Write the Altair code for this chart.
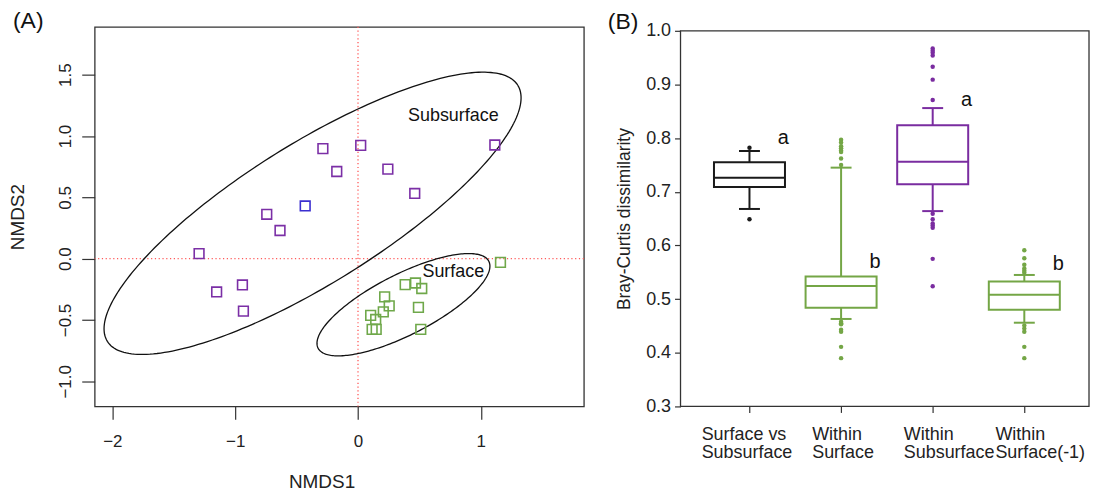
import numpy as np
import pandas as pd
import altair as alt

FONT = "Liberation Sans"

# ---------------- Panel A data (NMDS) ----------------
sub_x = [-0.286, 0.022, -0.173, 0.243, 0.462, 1.114, -0.743, -0.430, -0.635, -1.294, -1.151, -0.941, -0.933]
sub_y = [0.897, 0.924, 0.711, 0.730, 0.532, 0.927, 0.362, 0.430, 0.230, 0.041, -0.271, -0.214, -0.427]
sub_col = ["#7b2fa6"] * 7 + ["#3b2fd0"] + ["#7b2fa6"] * 5

surf_x = [1.160, 0.384, 0.468, 0.519, 0.217, 0.254, 0.492, 0.206, 0.103, 0.144, 0.115, 0.148, 0.511]
surf_y = [-0.030, -0.211, -0.198, -0.243, -0.311, -0.384, -0.397, -0.433, -0.462, -0.495, -0.576, -0.576, -0.576]
surf_col = "#6fa84a"

ell_names = ["Subsurface", "Surface"]
ell_cx = [-0.37, 0.37]
ell_cy = [0.37, -0.375]
ell_a = [1.97, 0.78]
ell_b = [0.57, 0.247]
ell_deg = [32, 27]

lab_text = ["Subsurface", "Surface"]
lab_x = [0.776, 0.776]
lab_y = [1.162, -0.108]

x_ticks_A = [-2, -1, 0, 1]
y_ticks_A = [-1.0, -0.5, 0.0, 0.5, 1.0, 1.5]

# ---------------- Panel B data (boxplots) ----------------
cats = ["Surface vs\nSubsurface", "Within\nSurface", "Within\nSubsurface", "Within\nSurface(-1)"]
box_colors = ["#1a1a1a", "#74a646", "#7a2ca0", "#74a646"]
q1 = [0.709, 0.484, 0.714, 0.480]
med = [0.726, 0.5245, 0.756, 0.508]
q3 = [0.755, 0.542, 0.824, 0.533]
wlo = [0.668, 0.463, 0.664, 0.456]
whi = [0.776, 0.745, 0.856, 0.545]
outliers = [
    [0.782, 0.649],
    [0.797, 0.792, 0.785, 0.781, 0.777, 0.774, 0.762, 0.750,
     0.458, 0.455, 0.453, 0.443, 0.439, 0.411, 0.390],
    [0.967, 0.963, 0.959, 0.954, 0.933, 0.909, 0.871,
     0.659, 0.649, 0.641, 0.637, 0.633, 0.575, 0.524],
    [0.591, 0.576, 0.564, 0.557, 0.553, 0.549,
     0.451, 0.445, 0.439, 0.411, 0.390],
]
letters = ["a", "b", "a", "b"]
letter_y = [0.800, 0.569, 0.871, 0.566]
y_ticks_B = [0.3, 0.4, 0.5, 0.6, 0.7, 0.8, 0.9, 1.0]

# ================= Panel A =================
pts = pd.DataFrame({
    "x": sub_x + surf_x,
    "y": sub_y + surf_y,
    "col": sub_col + [surf_col] * len(surf_x),
})

rows = []
for n, cx, cy, a, b, d in zip(ell_names, ell_cx, ell_cy, ell_a, ell_b, ell_deg):
    th = np.deg2rad(d)
    t = np.linspace(0, 2 * np.pi, 241)
    ex = cx + a * np.cos(t) * np.cos(th) - b * np.sin(t) * np.sin(th)
    ey = cy + a * np.cos(t) * np.sin(th) + b * np.sin(t) * np.cos(th)
    for i, (xx, yy) in enumerate(zip(ex, ey)):
        rows.append({"grp": n, "i": i, "x": xx, "y": yy})
ell = pd.DataFrame(rows)

x_A = alt.X("x:Q", scale=alt.Scale(domain=[-2.144, 1.839], nice=False, zero=False),
            axis=alt.Axis(values=x_ticks_A, format="d", title="NMDS1", tickSize=13,
                          labelFontSize=17, labelPadding=14, titleFontSize=19,
                          titleX=227.7, titleY=75, titleBaseline="middle"))
y_A = alt.Y("y:Q", scale=alt.Scale(domain=[-1.204, 1.890], nice=False, zero=False),
            axis=alt.Axis(values=y_ticks_A, format=".1f", title="NMDS2", tickSize=13,
                          labelFontSize=17, labelAngle=270, labelAlign="center",
                          labelBaseline="alphabetic", labelPadding=11,
                          titleFontSize=19, titleX=-77, titleY=190.5,
                          titleBaseline="middle", titleAngle=270))

vline = alt.Chart(pd.DataFrame({"x": [0]})).mark_rule(
    color="#ff5a5a", strokeDash=[1.2, 2.6], strokeWidth=1.3).encode(x=x_A)
hline = alt.Chart(pd.DataFrame({"y": [0]})).mark_rule(
    color="#ff5a5a", strokeDash=[1.2, 2.6], strokeWidth=1.3).encode(y=y_A)

ell_layer = alt.Chart(ell).mark_line(color="#111", strokeWidth=1.3).encode(
    x=x_A, y=y_A, detail="grp:N", order="i:Q")

pt_layer = alt.Chart(pts).mark_point(shape="square", filled=False, size=95, strokeWidth=1.6,
                                     opacity=1).encode(
    x=x_A, y=y_A, color=alt.Color("col:N", scale=None))

lab_layer = alt.Chart(pd.DataFrame({"x": lab_x, "y": lab_y, "t": lab_text})).mark_text(
    fontSize=18, color="#111", align="center", baseline="middle").encode(x=x_A, y=y_A, text="t:N")

tagA = alt.Chart(pd.DataFrame({"t": ["(A)"]})).mark_text(
    fontSize=23, align="left", baseline="middle", color="#111").encode(
    x=alt.value(-82), y=alt.value(-6), text="t:N")

panelA = alt.layer(vline, hline, ell_layer, pt_layer, lab_layer, tagA).properties(width=491, height=381)

# ================= Panel B =================
boxes = pd.DataFrame({"cat": cats, "q1": q1, "med": med, "q3": q3, "wlo": wlo, "whi": whi,
                      "letter": letters, "ly": letter_y, "col": box_colors})
out_rows = []
for c, colr, vals in zip(cats, box_colors, outliers):
    for v in vals:
        out_rows.append({"cat": c, "v": v, "col": colr})
outs = pd.DataFrame(out_rows)
frame = pd.DataFrame({"top": [max(y_ticks_B)], "bot": [min(y_ticks_B)]})

x_B = alt.X("cat:N", sort=cats,
            scale=alt.Scale(domain=cats, paddingInner=0.225, paddingOuter=0.342, align=0.534),
            axis=alt.Axis(title=None, labelExpr="split(datum.label, '\\n')", labelAngle=0,
                          labelFontSize=18, labelLineHeight=18, labelBaseline="top",
                          labelAlign="left",
                          labelOffset={"condition": {"test": "indexof(datum.value, 'vs') >= 0",
                                                     "value": -48},
                                       "value": -29},
                          labelPadding=13, tickSize=6))


def y_B(field):
    return alt.Y(field, type="quantitative",
                 scale=alt.Scale(domain=[0.3, 1.0], nice=False, zero=False, range=[381, 4]),
                 axis=alt.Axis(values=y_ticks_B, format=".1f", title="Bray-Curtis dissimilarity",
                               tickSize=6, labelFontSize=18, labelPadding=4,
                               titleFontSize=17.5, titleX=-56, titleY=192.5,
                               titleBaseline="middle", titleAngle=270))


col_B = alt.Color("col:N", scale=None)
stroke_B = alt.Stroke("col:N", scale=None)

frame_layer = alt.Chart(frame).mark_rect(fillOpacity=0, stroke="#333", strokeWidth=1.3).encode(
    x=alt.value(0), x2=alt.value(410), y=y_B("top"), y2="bot:Q")
whisk = alt.Chart(boxes).mark_rule(strokeWidth=2, opacity=1).encode(
    x=x_B, y=y_B("wlo"), y2="whi:Q", color=col_B)
box = alt.Chart(boxes).mark_bar(fill="white", strokeWidth=2, opacity=1).encode(
    x=x_B, y=y_B("q1"), y2="q3:Q", stroke=stroke_B)
median = alt.Chart(boxes).mark_tick(size=71, thickness=2, orient="horizontal", opacity=1).encode(
    x=x_B, y=y_B("med"), color=col_B)
cap_lo = alt.Chart(boxes).mark_tick(size=21, thickness=2, orient="horizontal", opacity=1).encode(
    x=x_B, y=y_B("wlo"), color=col_B)
cap_hi = alt.Chart(boxes).mark_tick(size=21, thickness=2, orient="horizontal", opacity=1).encode(
    x=x_B, y=y_B("whi"), color=col_B)
out_layer = alt.Chart(outs).mark_circle(size=20, opacity=1).encode(
    x=x_B, y=y_B("v"), color=col_B)
let_layer = alt.Chart(boxes).mark_text(fontSize=20, dx=34, color="#111",
                                       align="center", baseline="middle").encode(
    x=x_B, y=y_B("ly"), text="letter:N")
tagB = alt.Chart(pd.DataFrame({"t": ["(B)"]})).mark_text(
    fontSize=23, align="left", baseline="middle", color="#111").encode(
    x=alt.value(-73), y=alt.value(-4.8), text="t:N")

panelB = alt.layer(frame_layer, whisk, box, median, cap_lo, cap_hi, out_layer, let_layer, tagB).properties(
    width=410, height=381, view=alt.ViewBackground(stroke="transparent"))

chart = alt.hconcat(panelA, panelB, spacing=21).properties(
    padding={"left": 0, "top": 0, "right": 0, "bottom": 0}
).configure_axis(
    grid=False, domain=False, labelFont=FONT, titleFont=FONT, tickColor="#333",
    tickWidth=1.2, labelColor="#222", titleColor="#222", titleFontWeight="normal"
).configure_view(stroke="#333", strokeWidth=1.3).configure_text(font=FONT)

chart.save("out.html", embed_options={"renderer": "svg", "actions": False})
